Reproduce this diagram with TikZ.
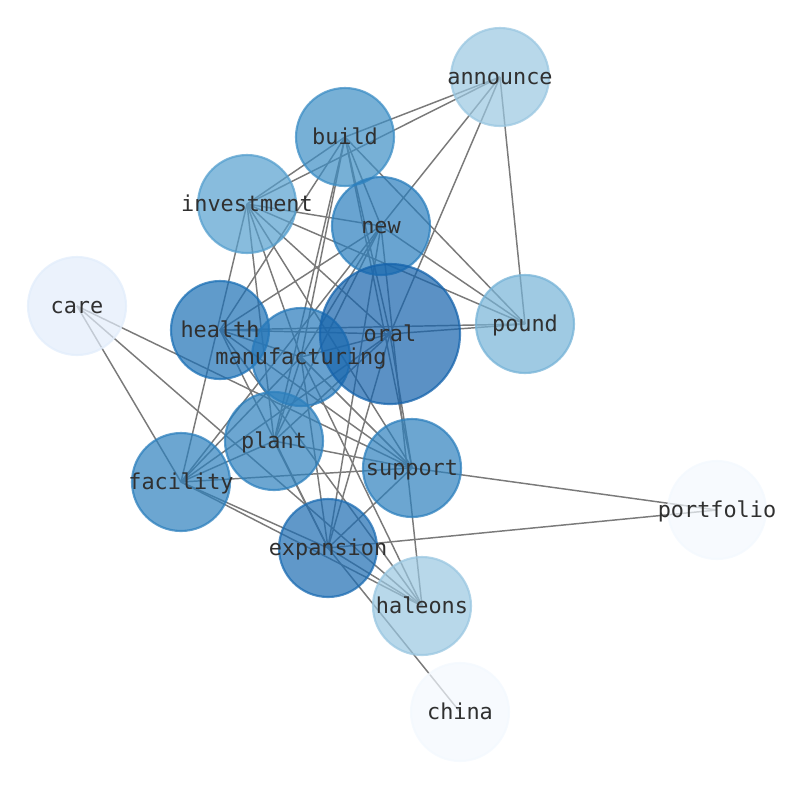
\documentclass[tikz,border=0pt]{standalone}
\usepackage{fontspec}
\newfontfamily\lblfont{DejaVu Sans Mono}
\pgfdeclarelayer{bg}
\pgfsetlayers{bg,main}
\definecolor{cOral}{HTML}{1563AC}
\definecolor{cHealth}{HTML}{1C70B5}
\definecolor{cExp}{HTML}{1C6CB2}
\definecolor{cManu}{HTML}{2779BA}
\definecolor{cNew}{HTML}{2A7EBD}
\definecolor{cMid}{HTML}{2D80BD}
\definecolor{cBuild}{HTML}{3D8EC5}
\definecolor{cInv}{HTML}{559FCE}
\definecolor{cPound}{HTML}{76B3D7}
\definecolor{cAnn}{HTML}{9AC7E1}
\definecolor{cCare}{HTML}{E2EDFB}
\definecolor{cPale}{HTML}{F3F8FE}
\definecolor{edgec}{HTML}{7A7A7A}
\definecolor{txt}{HTML}{303030}
\tikzset{
  nd/.style={circle, inner sep=0pt, minimum size=73.5pt, line width=1.6pt,
             fill opacity=0.7, draw opacity=0.75, fill=#1, draw=#1},
  bignd/.style={minimum size=105pt},
  lbl/.style={font=\lblfont\fontsize{16.4pt}{19pt}\selectfont, text=txt, anchor=base, inner sep=0pt},
  ed/.style={draw=edgec, line width=1.1pt}
}
\begin{document}
\begin{tikzpicture}[x=0.75pt, y=-0.75pt]
\useasboundingbox (0,0) rectangle (794,790);
% nodes
\node[nd=cAnn] (announce) at (500,77) {};
\node[nd=cBuild] (build) at (345,137) {};
\node[nd=cInv] (investment) at (247,204) {};
\node[nd=cNew] (new) at (381,226) {};
\node[nd=cCare] (care) at (77,306) {};
\node[nd=cHealth] (health) at (220,330) {};
\node[nd=cPound] (pound) at (525,324) {};
\node[nd=cManu] (manufacturing) at (301,357) {};
\node[nd=cOral, bignd] (oral) at (390,334) {};
\node[nd=cMid] (plant) at (274,441) {};
\node[nd=cMid] (facility) at (181,482) {};
\node[nd=cMid] (support) at (412,468) {};
\node[nd=cPale] (portfolio) at (717,510) {};
\node[nd=cExp] (expansion) at (328,548) {};
\node[nd=cAnn] (haleons) at (422,606) {};
\node[nd=cPale] (china) at (460,712) {};
% edges
\begin{pgfonlayer}{bg}
\foreach \a/\b in {announce/build, announce/investment, announce/new, announce/oral, announce/pound,
  build/investment, build/health, build/manufacturing, build/plant, build/new, build/oral, build/pound, build/support,
  investment/new, investment/pound, investment/oral, investment/manufacturing, investment/plant, investment/facility, investment/support,
  new/health, new/manufacturing, new/plant, new/facility, new/expansion, new/pound, new/haleons,
  care/support, care/haleons, care/facility,
  health/oral, health/pound, health/manufacturing, health/support, health/expansion, health/haleons,
  oral/manufacturing, oral/pound, oral/plant, oral/facility, oral/expansion, oral/support,
  manufacturing/plant, manufacturing/facility, manufacturing/support, manufacturing/expansion, manufacturing/haleons,
  plant/facility, plant/support, plant/expansion,
  facility/support, facility/expansion, facility/haleons,
  support/expansion, support/portfolio,
  expansion/haleons, expansion/portfolio, expansion/china}
  \draw[ed] (\a.center) -- (\b.center);
\end{pgfonlayer}
% labels
\foreach \n in {announce, build, investment, new, care, health, pound, oral, manufacturing, plant, facility, support, portfolio, expansion, haleons, china}
  \node[lbl] (l-\n) at ([yshift=-7.5*0.75pt]\n.center) {\n};
\end{tikzpicture}
\end{document}
